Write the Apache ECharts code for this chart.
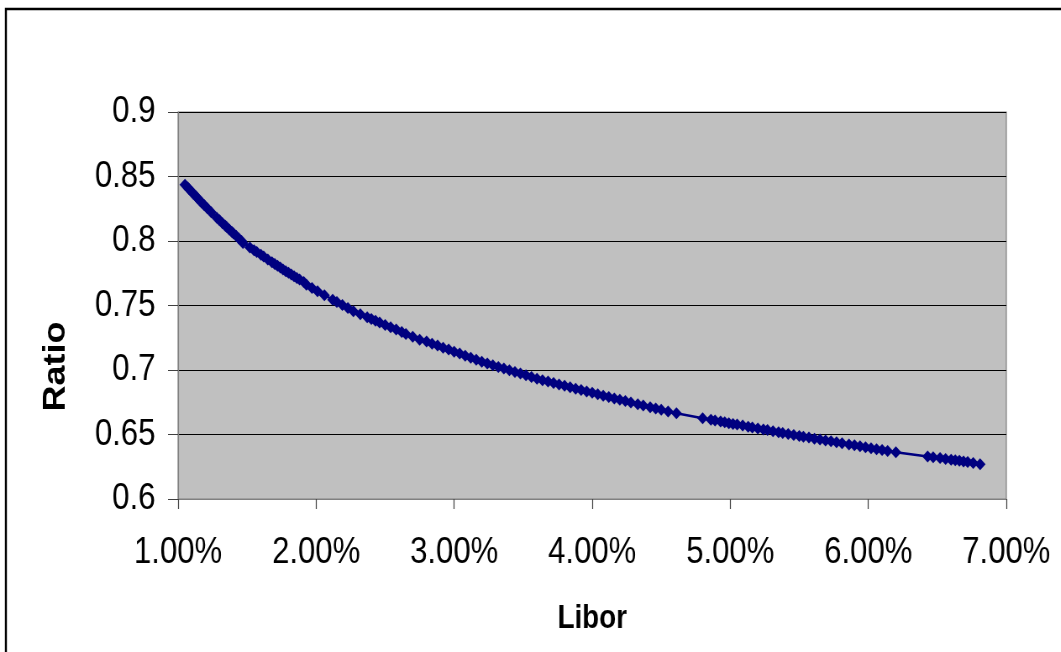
<!DOCTYPE html>
<html>
<head>
<meta charset="utf-8">
<script src="https://cdn.jsdelivr.net/npm/echarts@6/dist/echarts.min.js"></script>
<style>
  html, body { margin: 0; padding: 0; background: #ffffff; overflow: hidden; }
  /* the drawing is laid out wider and then condensed horizontally, giving the tall, narrow lettering */
  #chart { width: 1263px; height: 652px; transform: scaleX(0.84); transform-origin: 0 0; }
</style>
</head>
<body>
<div id="chart"></div>
<script>
// Libor rate (in percent) and the matching ratio
const libor = [
  1.05, 1.07, 1.08, 1.10, 1.11, 1.13, 1.14, 1.16, 1.17, 1.19, 1.21, 1.24,
  1.28, 1.30, 1.32, 1.34, 1.35, 1.37, 1.39, 1.40, 1.42, 1.44, 1.46, 1.47,
  1.52, 1.55, 1.57, 1.60, 1.62, 1.65, 1.68, 1.70, 1.72, 1.74, 1.76, 1.78,
  1.80, 1.82, 1.84, 1.86, 1.88, 1.91, 1.93, 1.97, 2.01, 2.06, 2.12, 2.15,
  2.19, 2.23, 2.27, 2.32, 2.37, 2.40, 2.43, 2.46, 2.50, 2.54, 2.58, 2.62,
  2.65, 2.70, 2.75, 2.80, 2.84, 2.88, 2.92, 2.96, 3.00, 3.04, 3.08, 3.12,
  3.16, 3.20, 3.24, 3.28, 3.32, 3.36, 3.40, 3.44, 3.48, 3.52, 3.56, 3.60,
  3.64, 3.68, 3.72, 3.76, 3.80, 3.84, 3.88, 3.92, 3.96, 4.00, 4.04, 4.08,
  4.12, 4.16, 4.20, 4.24, 4.28, 4.33, 4.37, 4.42, 4.46, 4.50, 4.55, 4.61,
  4.80, 4.86, 4.89, 4.93, 4.96, 4.99, 5.02, 5.05, 5.09, 5.13, 5.16, 5.20,
  5.24, 5.27, 5.31, 5.35, 5.38, 5.42, 5.46, 5.50, 5.53, 5.57, 5.61, 5.65,
  5.69, 5.73, 5.77, 5.81, 5.86, 5.90, 5.94, 5.98, 6.02, 6.06, 6.10, 6.14,
  6.20, 6.43, 6.47, 6.52, 6.56, 6.60, 6.63, 6.66, 6.69, 6.72, 6.76, 6.81
];
const ratio = [
  0.8437, 0.8414, 0.8402, 0.8379, 0.8367, 0.8344, 0.8333, 0.8310, 0.8299, 0.8277, 0.8255, 0.8222,
  0.8180, 0.8160, 0.8140, 0.8120, 0.8110, 0.8090, 0.8070, 0.8060, 0.8040, 0.8020, 0.8000, 0.7985,
  0.7950, 0.7928, 0.7914, 0.7893, 0.7879, 0.7857, 0.7836, 0.7822, 0.7808, 0.7794, 0.7780, 0.7766,
  0.7753, 0.7740, 0.7727, 0.7714, 0.7701, 0.7682, 0.7660, 0.7635, 0.7610, 0.7580, 0.7545, 0.7527,
  0.7504, 0.7480, 0.7455, 0.7432, 0.7409, 0.7395, 0.7381, 0.7368, 0.7349, 0.7331, 0.7313, 0.7294,
  0.7280, 0.7258, 0.7235, 0.7220, 0.7204, 0.7189, 0.7173, 0.7158, 0.7142, 0.7127, 0.7111, 0.7095,
  0.7080, 0.7064, 0.7050, 0.7037, 0.7024, 0.7011, 0.6998, 0.6985, 0.6972, 0.6959, 0.6946, 0.6933,
  0.6920, 0.6910, 0.6899, 0.6888, 0.6877, 0.6866, 0.6855, 0.6845, 0.6834, 0.6823, 0.6812, 0.6801,
  0.6790, 0.6780, 0.6769, 0.6759, 0.6748, 0.6735, 0.6725, 0.6712, 0.6701, 0.6691, 0.6678, 0.6664,
  0.6626, 0.6614, 0.6608, 0.6600, 0.6594, 0.6588, 0.6582, 0.6577, 0.6569, 0.6561, 0.6555, 0.6547,
  0.6539, 0.6534, 0.6526, 0.6518, 0.6512, 0.6504, 0.6496, 0.6489, 0.6483, 0.6476, 0.6468, 0.6461,
  0.6454, 0.6447, 0.6439, 0.6432, 0.6423, 0.6416, 0.6408, 0.6401, 0.6394, 0.6386, 0.6379, 0.6372,
  0.6362, 0.6330, 0.6324, 0.6317, 0.6311, 0.6305, 0.6300, 0.6296, 0.6291, 0.6286, 0.6280, 0.6270
];
const xTickLabels = ['1.00%', '2.00%', '3.00%', '4.00%', '5.00%', '6.00%', '7.00%'];
const yTickLabels = ['0.6', '0.65', '0.7', '0.75', '0.8', '0.85', '0.9'];

const FONT = '"Liberation Sans", Arial, sans-serif';
const points = libor.map((x, i) => [x, ratio[i]]);

const chart = echarts.init(document.getElementById('chart'), null, { renderer: 'canvas' });
chart.setOption({
  animation: false,
  backgroundColor: '#ffffff',
  graphic: [{
    type: 'rect',
    shape: { x: 7, y: 9, width: 1400, height: 700 },
    style: { fill: 'none', stroke: '#000000', lineWidth: 2.4 },
    z: 0
  }],
  grid: {
    left: 212, top: 112, right: 65, bottom: 153,
    show: true,
    backgroundColor: '#C0C0C0',
    borderColor: '#808080',
    borderWidth: 1.2
  },
  xAxis: {
    type: 'value',
    min: 1, max: 7, interval: 1,
    name: 'Libor',
    nameLocation: 'middle',
    nameGap: 103,
    nameTextStyle: { fontFamily: FONT, fontSize: 33, fontWeight: 'bold', color: '#000000' },
    axisLine: { show: true, onZero: false, lineStyle: { color: '#808080', width: 1 } },
    axisTick: { show: true, inside: false, length: 10, lineStyle: { color: '#404040', width: 1.2 } },
    axisLabel: {
      margin: 35,
      fontFamily: FONT, fontSize: 37, color: '#000000',
      formatter: (v) => xTickLabels[Math.round(v) - 1]
    },
    splitLine: { show: false }
  },
  yAxis: {
    type: 'value',
    min: 0.6, max: 0.9, interval: 0.05,
    name: 'Ratio',
    nameLocation: 'middle',
    nameGap: 127,
    nameRotate: 90,
    nameTextStyle: {
      fontFamily: FONT, fontSize: 36, fontWeight: 'bold', color: '#000000',
      // the title sits below the middle of the axis
      padding: [0, 122, 0, 0]
    },
    axisLine: { show: true, lineStyle: { color: '#808080', width: 1.2 } },
    axisTick: { show: true, inside: false, length: 12, lineStyle: { color: '#404040', width: 1 } },
    axisLabel: {
      margin: 27,
      fontFamily: FONT, fontSize: 37, color: '#000000',
      formatter: (v) => yTickLabels[Math.round((v - 0.6) / 0.05)]
    },
    splitLine: { show: true, showMinLine: false, lineStyle: { color: '#000000', width: 1 } }
  },
  series: [{
    type: 'line',
    data: points,
    symbol: 'diamond',
    symbolSize: [13, 12],
    showAllSymbol: true,
    itemStyle: { color: '#000080', borderWidth: 0 },
    lineStyle: { color: '#000080', width: 2.5 },
    emphasis: { disabled: true }
  }]
});
</script>
</body>
</html>
